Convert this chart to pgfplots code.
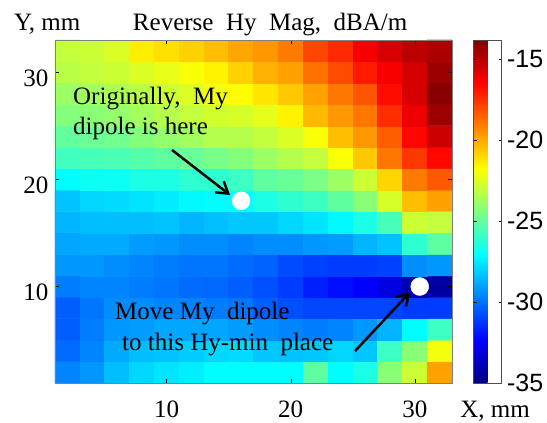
\documentclass[border=0pt]{standalone}
\usepackage{fontspec}
\setmainfont{Liberation Serif}
\setsansfont{Liberation Sans}
\usepackage{pgfplots}
\pgfplotsset{compat=1.18}
\usetikzlibrary{arrows.meta}

\begin{document}
\begin{tikzpicture}[font=\fontsize{25bp}{30bp}\selectfont]
\begin{axis}[
  at={(0,0)}, anchor=south west,
  scale only axis, width=397bp, height=343bp,
  xmin=1, xmax=33, ymin=1, ymax=33,
  axis on top,
  colormap/jet,
  point meta min=-35, point meta max=-13.8,
  xtick={10,20,30}, xticklabels={10,20,30},
  ytick={10,20,30}, yticklabels={10,20,30},
  tick pos=both, tick align=inside, major tick length=4bp,
  tick style={black, line width=0.4pt},
  axis line style={gray, line width=0.6pt},
  xticklabel style={anchor=base, yshift=-34bp},
  yticklabel style={yshift=-6bp, xshift=-3bp},
  clip=false,
  colorbar right,
  colorbar style={
    width=28bp,
    at={(parent axis.north east)}, anchor=north west, xshift=13bp,
    ytick={-35,-30,-25,-20,-15},
    yticklabels={-35,-30,-25,-20,-15},
    yticklabel style={font=\sffamily\fontsize{25bp}{30bp}\selectfont, xshift=2bp},
    major tick length=3bp, tick align=inside,
    axis line style={gray!60!black},
  },
]
\addplot[matrix plot*, mesh/cols=16, mesh/rows=16, point meta=explicit]
 table[row sep=\\, meta=c] {
x y c\\
2 2 -29.6\\ 4 2 -29.2\\ 6 2 -28.4\\ 8 2 -27.9\\ 10 2 -27.6\\ 12 2 -27.4\\ 14 2 -27.1\\ 16 2 -27.1\\ 18 2 -27.1\\ 20 2 -27.1\\ 22 2 -25.1\\ 24 2 -27.1\\ 26 2 -26.5\\ 28 2 -24.2\\ 30 2 -22.8\\ 32 2 -19.8\\
2 4 -30.1\\ 4 4 -29.6\\ 6 4 -28.8\\ 8 4 -28.4\\ 10 4 -28.3\\ 12 4 -28.1\\ 14 4 -27.9\\ 16 4 -27.8\\ 18 4 -28.2\\ 20 4 -28.3\\ 22 4 -28.2\\ 24 4 -27.9\\ 26 4 -28.2\\ 28 4 -25.8\\ 30 4 -24.2\\ 32 4 -22.0\\
2 6 -30.4\\ 4 6 -29.75\\ 6 6 -29.2\\ 8 6 -29.1\\ 10 6 -28.9\\ 12 6 -28.9\\ 14 6 -28.9\\ 16 6 -29.1\\ 18 6 -29.4\\ 20 6 -29.6\\ 22 6 -29.75\\ 24 6 -29.6\\ 26 6 -29.2\\ 28 6 -28.6\\ 30 6 -27.1\\ 32 6 -25.8\\
2 8 -30.4\\ 4 8 -29.9\\ 6 8 -29.4\\ 8 8 -29.4\\ 10 8 -29.6\\ 12 8 -29.6\\ 14 8 -29.75\\ 16 8 -29.9\\ 18 8 -30.4\\ 20 8 -30.7\\ 22 8 -30.9\\ 24 8 -30.9\\ 26 8 -30.9\\ 28 8 -30.9\\ 30 8 -31.1\\ 32 8 -31.1\\
2 10 -29.75\\ 4 10 -29.6\\ 6 10 -29.6\\ 8 10 -29.75\\ 10 10 -29.9\\ 12 10 -30.1\\ 14 10 -30.2\\ 16 10 -30.4\\ 18 10 -30.7\\ 20 10 -31.1\\ 22 10 -31.7\\ 24 10 -32.05\\ 26 10 -32.4\\ 28 10 -33.0\\ 30 10 -34.0\\ 32 10 -34.3\\
2 12 -29.2\\ 4 12 -29.2\\ 6 12 -29.4\\ 8 12 -29.6\\ 10 12 -29.75\\ 12 12 -29.9\\ 14 12 -29.9\\ 16 12 -30.1\\ 18 12 -30.3\\ 20 12 -30.8\\ 22 12 -31.0\\ 24 12 -31.1\\ 26 12 -31.1\\ 28 12 -31.0\\ 30 12 -29.4\\ 32 12 -29.2\\
2 14 -28.9\\ 4 14 -28.8\\ 6 14 -28.8\\ 8 14 -29.1\\ 10 14 -29.2\\ 12 14 -29.4\\ 14 14 -29.4\\ 16 14 -29.6\\ 18 14 -29.4\\ 20 14 -29.4\\ 22 14 -29.2\\ 24 14 -29.1\\ 26 14 -28.6\\ 28 14 -28.3\\ 30 14 -26.1\\ 32 14 -25.1\\
2 16 -28.6\\ 4 16 -28.4\\ 6 16 -28.4\\ 8 16 -28.4\\ 10 16 -28.3\\ 12 16 -28.6\\ 14 16 -28.4\\ 16 16 -28.2\\ 18 16 -28.2\\ 20 16 -27.9\\ 22 16 -27.6\\ 24 16 -27.2\\ 26 16 -26.5\\ 28 16 -25.6\\ 30 16 -22.8\\ 32 16 -23.0\\
2 18 -28.3\\ 4 18 -27.9\\ 6 18 -27.8\\ 8 18 -27.6\\ 10 18 -27.4\\ 12 18 -27.2\\ 14 18 -27.1\\ 16 18 -27.1\\ 18 18 -26.5\\ 20 18 -26.1\\ 22 18 -25.8\\ 24 18 -25.1\\ 26 18 -24.2\\ 28 18 -22.6\\ 30 18 -20.4\\ 32 18 -19.8\\
2 20 -27.1\\ 4 20 -26.8\\ 6 20 -26.8\\ 8 20 -26.5\\ 10 20 -26.5\\ 12 20 -26.1\\ 14 20 -26.1\\ 16 20 -25.8\\ 18 20 -25.1\\ 20 20 -24.9\\ 22 20 -24.5\\ 24 20 -23.8\\ 26 20 -22.8\\ 28 20 -20.9\\ 30 20 -19.0\\ 32 20 -18.3\\
2 22 -25.7\\ 4 22 -25.6\\ 6 22 -25.5\\ 8 22 -25.3\\ 10 22 -25.1\\ 12 22 -24.9\\ 14 22 -24.6\\ 16 22 -24.3\\ 18 22 -23.8\\ 20 22 -23.3\\ 22 22 -23.0\\ 24 22 -21.9\\ 26 22 -20.6\\ 28 22 -18.9\\ 30 22 -17.6\\ 32 22 -16.6\\
2 24 -25.0\\ 4 24 -24.8\\ 6 24 -24.7\\ 8 24 -24.3\\ 10 24 -24.0\\ 12 24 -23.7\\ 14 24 -23.3\\ 16 24 -23.3\\ 18 24 -23.0\\ 20 24 -22.5\\ 22 24 -21.9\\ 24 24 -20.4\\ 26 24 -19.6\\ 28 24 -18.4\\ 30 24 -16.6\\ 32 24 -15.4\\
2 26 -24.3\\ 4 26 -24.2\\ 6 26 -24.0\\ 8 26 -23.7\\ 10 26 -23.3\\ 12 26 -23.0\\ 14 26 -22.7\\ 16 26 -22.6\\ 18 26 -22.3\\ 20 26 -21.5\\ 22 26 -20.3\\ 24 26 -19.6\\ 26 26 -18.9\\ 28 26 -17.4\\ 30 26 -16.1\\ 32 26 -14.4\\
2 28 -23.8\\ 4 28 -23.7\\ 6 28 -23.5\\ 8 28 -23.2\\ 10 28 -22.8\\ 12 28 -22.5\\ 14 28 -22.0\\ 16 28 -21.7\\ 18 28 -21.2\\ 20 28 -20.6\\ 22 28 -19.8\\ 24 28 -18.9\\ 26 28 -18.2\\ 28 28 -16.7\\ 30 28 -15.6\\ 32 28 -14.0\\
2 30 -23.2\\ 4 30 -23.0\\ 6 30 -22.8\\ 8 30 -22.5\\ 10 30 -22.2\\ 12 30 -21.9\\ 14 30 -21.5\\ 16 30 -20.8\\ 18 30 -20.1\\ 20 30 -19.8\\ 22 30 -18.8\\ 24 30 -18.0\\ 26 30 -17.0\\ 28 30 -16.3\\ 30 30 -15.6\\ 32 30 -14.4\\
2 32 -23.0\\ 4 32 -22.8\\ 6 32 -22.5\\ 8 32 -21.4\\ 10 32 -21.1\\ 12 32 -20.8\\ 14 32 -20.4\\ 16 32 -19.9\\ 18 32 -19.6\\ 20 32 -19.0\\ 22 32 -17.9\\ 24 32 -17.3\\ 26 32 -16.3\\ 28 32 -15.6\\ 30 32 -15.0\\ 32 32 -14.7\\
};
\addplot[only marks, mark=*, mark size=9bp, mark options={fill=white, draw=white}]
  coordinates {(16,18) (30.4,10)};
\addplot[-{Straight Barb[length=11bp, width=14bp]}, line width=2.5bp, black]
  coordinates {(10.43,22.74) (15.11,18.54)};
\addplot[-{Straight Barb[length=11bp, width=14bp]}, line width=2.5bp, black]
  coordinates {(25.19,3.99) (29.63,9.49)};
\node[anchor=base west, inner sep=0] at (axis cs:2.45,26.94) {Originally,\ \ My};
\node[anchor=base west, inner sep=0] at (axis cs:2.45,24.14) {dipole is here};
\node[anchor=base west, inner sep=0] at (axis cs:5.84,6.88) {Move My\ \ dipole};
\node[anchor=base west, inner sep=0] at (axis cs:6.4,3.99) {to this Hy-min\ \ place};
\node[anchor=base, inner sep=0] at (axis cs:18.34,33.84) {Reverse\ \ Hy\ \ Mag,\ \ dBA/m};
\node[anchor=base west, inner sep=0] at (axis cs:-2.31,33.84) {Y, mm};
\node[anchor=base west, inner sep=0] at (axis cs:33.65,-2.26) {X, mm};
\end{axis}
\path (-55bp,-40bp) rectangle (492bp,383bp);
\end{tikzpicture}
\end{document}
